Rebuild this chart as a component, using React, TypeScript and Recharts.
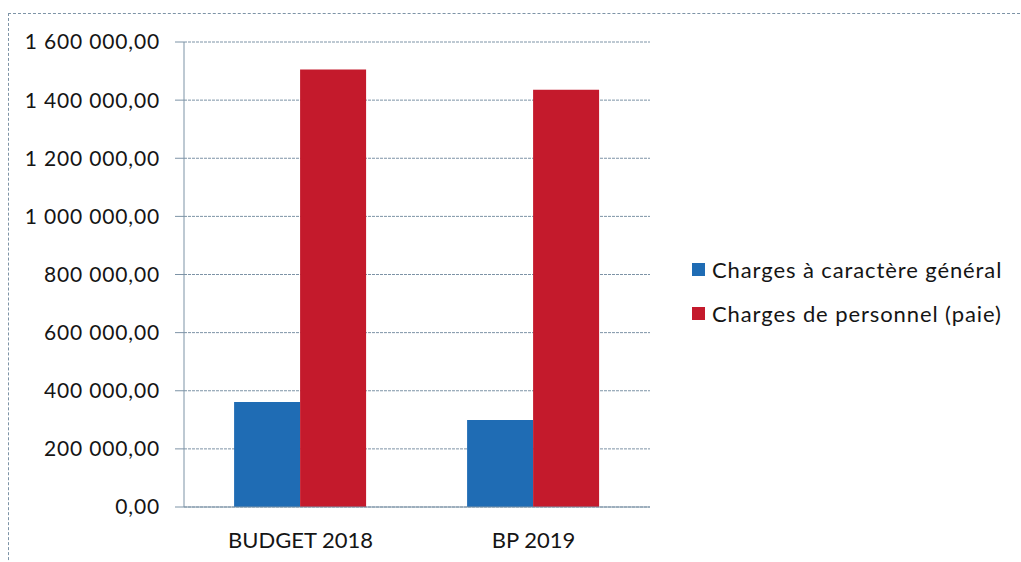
import { Bar, BarChart, CartesianGrid, Legend, XAxis, YAxis } from "recharts";

const categories = ["BUDGET 2018", "BP 2019"];
const generalCharges = [361000, 299000];
const staffCharges = [1505000, 1436000];
const yTicks = [0, 200000, 400000, 600000, 800000, 1000000, 1200000, 1400000, 1600000];
const edgeTicks = [0, 1, 2];

const seriesOrder = ["general", "staff"];
const seriesNames = {
  general: "Charges à caractère général",
  staff: "Charges de personnel (paie)",
};

const rows = categories.map((label, i) => ({
  label,
  pos: i + 0.5,
  general: generalCharges[i],
  staff: staffCharges[i],
}));

const BLUE = "#1f6cb4";
const RED = "#c41a2c";
const LINE = "#7d93a6";
const FONT = "Lato, 'Open Sans', sans-serif";

// French style: 1 600 000,00
const frMoney = (v: number) => Math.round(v).toString().replace(/\B(?=(\d{3})+(?!\d))/g, " ") + ",00";

function LegendBox({ payload }: any) {
  const items = [...(payload || [])].sort(
    (a: any, b: any) => seriesOrder.indexOf(a.dataKey) - seriesOrder.indexOf(b.dataKey)
  );
  return (
    <div style={{ fontFamily: FONT, fontSize: 22, letterSpacing: 0.9, color: "#151515" }}>
      {items.map((p: any) => (
        <div key={p.value} style={{ display: "flex", alignItems: "center", height: 44 }}>
          <span style={{ width: 13, height: 13, background: p.color, display: "inline-block", marginRight: 7 }} />
          {p.value}
        </div>
      ))}
    </div>
  );
}

export default function App() {
  return (
    <div style={{ position: "fixed", left: 0, top: 0, width: 1021, height: 562, background: "#fff", overflow: "hidden" }}>
      <div
        style={{
          position: "absolute",
          left: 8,
          top: 13,
          width: 1040,
          height: 600,
          border: `1px dashed ${LINE}`,
        }}
      />
      <BarChart
        width={1021}
        height={562}
        data={rows}
        margin={{ top: 42, right: 371, bottom: 0, left: 0 }}
        barGap={0}
        barCategoryGap="21.5%"
      >
        <CartesianGrid horizontal vertical={false} stroke={LINE} strokeDasharray="3 1" />
        <XAxis
          type="number"
          dataKey="pos"
          domain={[0, 2]}
          ticks={edgeTicks}
          tick={false}
          axisLine={false}
          tickSize={6}
          tickLine={{ stroke: LINE }}
          height={0}
        />
        <XAxis
          xAxisId="cat"
          dataKey="label"
          axisLine={{ stroke: LINE }}
          tickLine={false}
          tickSize={0}
          tickMargin={25}
          height={55}
          tick={{ fill: "#151515", fontSize: 22, fontFamily: FONT }}
        />
        <YAxis
          width={184}
          domain={[0, 1600000]}
          ticks={yTicks}
          interval={0}
          tickFormatter={frMoney}
          axisLine={{ stroke: LINE }}
          tickLine={{ stroke: LINE }}
          tickSize={9}
          tickMargin={15}
          tick={{ fill: "#151515", fontSize: 21, fontFamily: FONT, letterSpacing: 0.85 }}
        />
        <Legend
          layout="vertical"
          align="center"
          verticalAlign="middle"
          content={<LegendBox />}
          wrapperStyle={{ position: "absolute", left: 692, top: 247, width: 329 }}
        />
        <Bar xAxisId="cat" dataKey="general" name={seriesNames.general} fill={BLUE} isAnimationActive={false} />
        <Bar xAxisId="cat" dataKey="staff" name={seriesNames.staff} fill={RED} isAnimationActive={false} />
      </BarChart>
    </div>
  );
}
